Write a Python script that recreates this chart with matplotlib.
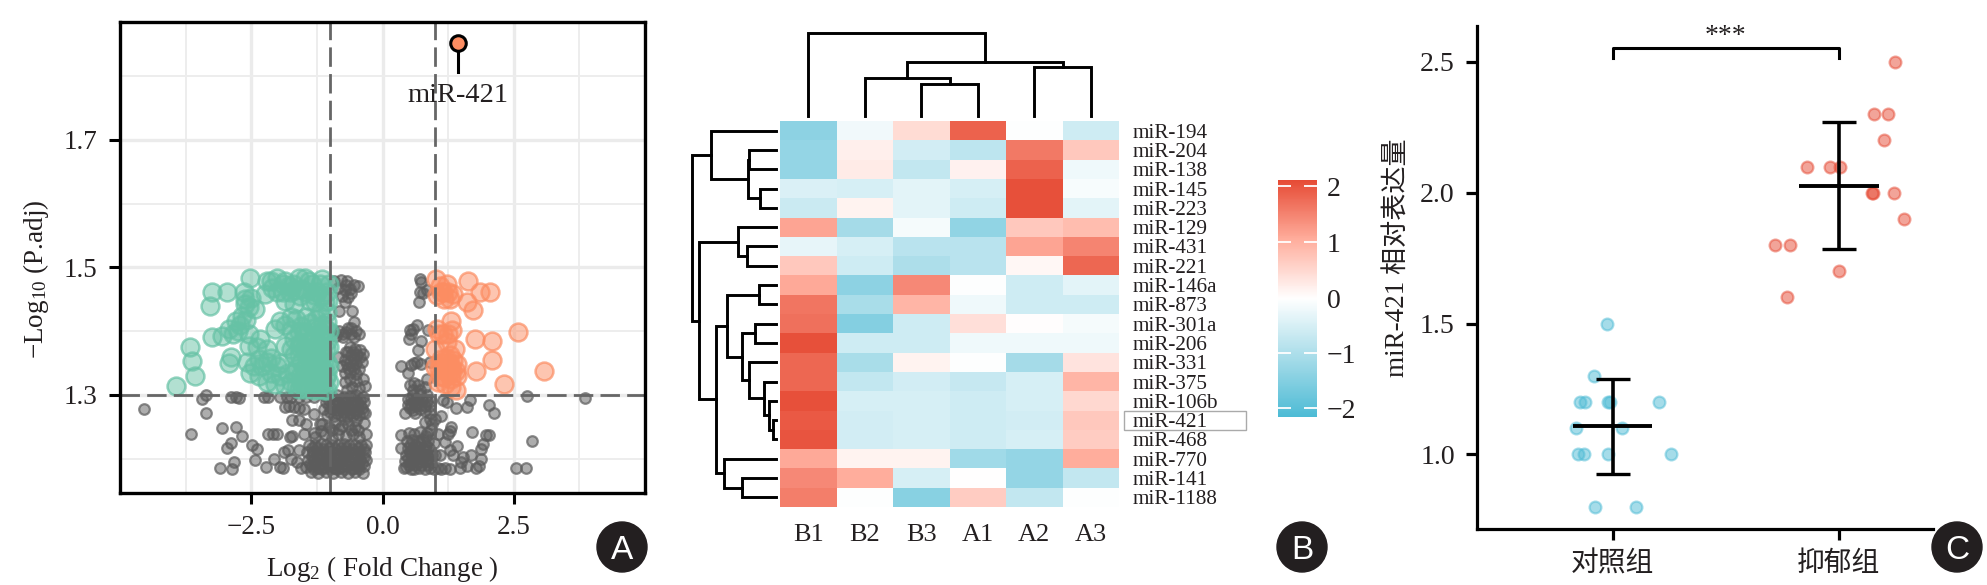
import matplotlib
matplotlib.use('Agg')
import matplotlib.pyplot as plt
import numpy as np
from matplotlib.colors import LinearSegmentedColormap, TwoSlopeNorm
from matplotlib.patches import Rectangle, Ellipse

plt.rcParams['font.family'] = ['Liberation Serif', 'Noto Sans CJK SC']
plt.rcParams['mathtext.fontset'] = 'custom'
plt.rcParams['mathtext.rm'] = 'Liberation Serif'
plt.rcParams['mathtext.default'] = 'rm'
plt.rcParams['text.color'] = '#231f20'
plt.rcParams['xtick.labelcolor'] = '#231f20'
plt.rcParams['ytick.labelcolor'] = '#231f20'

# panel A
green_points = [
    (-3.94, 1.314), (-3.57, 1.329), (-3.62, 1.353), (-3.67, 1.375), (-3.29, 1.440), (-3.24, 1.462),
    (-2.96, 1.462), (-2.52, 1.483), (-3.24, 1.390), (-3.05, 1.393), (-2.93, 1.403), (-2.80, 1.416),
    (-2.67, 1.424), (-2.93, 1.350), (-2.88, 1.359), (-2.61, 1.443), (-2.64, 1.461), (-2.42, 1.435),
    (-2.55, 1.396), (-2.55, 1.377), (-2.52, 1.335), (-2.58, 1.351), (-2.33, 1.388), (-2.20, 1.372),
    (-2.36, 1.356), (-2.20, 1.351), (-2.01, 1.346), (-2.20, 1.320), (-2.04, 1.317), (-1.85, 1.314),
    (-2.20, 1.479), (-2.01, 1.483), (-1.85, 1.479), (-2.23, 1.458), (-2.01, 1.461), (-1.85, 1.448),
    (-1.69, 1.443), (-1.60, 1.483), (-1.34, 1.474), (-1.76, 1.461), (-1.53, 1.466), (-1.28, 1.445),
    (-1.19, 1.474), (-1.02, 1.474), (-1.95, 1.416), (-2.04, 1.403), (-1.85, 1.409), (-1.65, 1.419),
    (-1.45, 1.422), (-1.26, 1.419), (-1.13, 1.409), (-1.85, 1.377), (-1.69, 1.388), (-1.50, 1.398),
    (-1.31, 1.393), (-1.13, 1.393), (-1.02, 1.375), (-1.69, 1.362), (-1.50, 1.372), (-1.31, 1.367),
    (-1.13, 1.362), (-1.69, 1.335), (-1.50, 1.341), (-1.31, 1.341), (-1.13, 1.341), (-1.02, 1.320),
    (-1.50, 1.320), (-1.31, 1.320), (-1.13, 1.320), (-1.56, 1.351), (-1.38, 1.354), (-1.19, 1.351),
    (-1.25, 1.461), (-1.06, 1.461), (-1.19, 1.430), (-1.06, 1.430), (-1.40, 1.310), (-1.22, 1.309),
    (-1.05, 1.308), (-1.60, 1.309), (-1.42, 1.330), (-1.22, 1.330), (-1.05, 1.332), (-1.58, 1.330),
    (-1.40, 1.385), (-1.22, 1.380), (-1.05, 1.385), (-1.58, 1.382), (-1.30, 1.405), (-1.10, 1.403),
    (-1.45, 1.362), (-1.25, 1.360), (-1.05, 1.352), (-1.75, 1.402), (-1.60, 1.398), (-1.40, 1.478),
    (-1.15, 1.481), (-1.48, 1.483), (-1.70, 1.474), (-1.90, 1.474), (-2.10, 1.468), (-1.30, 1.456),
    # denser patches
    (-2.62, 1.450), (-2.55, 1.438), (-2.50, 1.452), (-2.72, 1.410), (-2.60, 1.418), (-2.85, 1.396),
    (-2.75, 1.400), (-2.40, 1.375), (-2.45, 1.345), (-2.30, 1.345), (-2.12, 1.335), (-2.35, 1.330),
    (-2.12, 1.358), (-1.95, 1.330), (-1.95, 1.350), (-1.80, 1.335), (-1.75, 1.320), (-1.65, 1.312),
    (-1.90, 1.462), (-2.12, 1.478), (-1.78, 1.470), (-1.66, 1.464), (-1.58, 1.455), (-1.45, 1.462),
    (-1.38, 1.448), (-1.18, 1.455), (-1.10, 1.445), (-1.03, 1.448), (-1.75, 1.422), (-1.55, 1.408),
    (-1.38, 1.412), (-1.20, 1.398), (-1.05, 1.415), (-1.45, 1.392), (-1.60, 1.375), (-1.38, 1.372),
    (-1.75, 1.372), (-1.20, 1.372), (-1.08, 1.372), (-1.60, 1.360), (-1.30, 1.352), (-1.12, 1.350),
    (-1.45, 1.345), (-1.62, 1.342), (-1.25, 1.342), (-1.08, 1.328), (-1.35, 1.325), (-1.55, 1.318),
    (-1.18, 1.318), (-1.30, 1.308), (-1.12, 1.308), (-1.48, 1.309), (-1.02, 1.400), (-1.02, 1.345),
]
orange_points = [
    (1.01, 1.482), (1.22, 1.474), (1.63, 1.478), (1.85, 1.462), (2.05, 1.462), (1.60, 1.446),
    (1.73, 1.433), (1.35, 1.458), (1.16, 1.461), (1.03, 1.456), (1.31, 1.416), (2.58, 1.399),
    (1.76, 1.388), (2.09, 1.384), (2.08, 1.354), (1.78, 1.337), (3.08, 1.337), (2.32, 1.317),
    (1.03, 1.403), (1.16, 1.396), (1.33, 1.401), (1.00, 1.372), (1.38, 1.372), (1.22, 1.351),
    (1.41, 1.349), (1.00, 1.343), (1.25, 1.335), (1.41, 1.330), (1.19, 1.317), (1.31, 1.312),
    (1.40, 1.307), (1.12, 1.356), (1.28, 1.362), (1.22, 1.383), (1.10, 1.330), (1.30, 1.345),
    (1.15, 1.343), (1.35, 1.355), (1.05, 1.320), (1.10, 1.470), (1.18, 1.450), (1.28, 1.450),
    (1.12, 1.462), (1.25, 1.462), (1.08, 1.395), (1.25, 1.395), (1.20, 1.340), (1.33, 1.338),
    (1.10, 1.350), (1.20, 1.358), (1.08, 1.340), (1.30, 1.325), (1.18, 1.328), (1.40, 1.338),
]
grey_points = [
    # far left
    (-4.54, 1.278), (-3.43, 1.294), (-3.37, 1.300), (-3.36, 1.271), (-2.89, 1.297), (-2.73, 1.295),
    (-2.80, 1.296), (-3.65, 1.238), (-3.05, 1.248), (-2.79, 1.249), (-2.67, 1.236), (-2.88, 1.224),
    (-2.96, 1.216), (-2.48, 1.222), (-2.40, 1.215), (-2.83, 1.194), (-3.10, 1.186), (-2.86, 1.184),
    (-2.42, 1.197), (-2.22, 1.187), (-2.18, 1.238), (-2.01, 1.238), (-2.09, 1.239), (-1.72, 1.236),
    (-1.76, 1.234), (-1.50, 1.239), (-2.26, 1.296), (-2.18, 1.296), (-1.95, 1.296), (-1.82, 1.297),
    (-1.75, 1.296), (-1.60, 1.297), (-1.45, 1.296), (-1.30, 1.297), (-1.85, 1.281), (-1.69, 1.281),
    (-1.50, 1.278), (-1.78, 1.283), (-1.60, 1.279), (-1.88, 1.210), (-1.80, 1.214), (-2.07, 1.200),
    (-1.95, 1.187), (-1.90, 1.185), (-1.60, 1.213), (-1.63, 1.194), (-1.72, 1.260), (-1.60, 1.260),
    (-1.31, 1.270), (-1.45, 1.255), (-1.20, 1.255), (-1.30, 1.240), (-1.75, 1.200), (-1.55, 1.186),
    # left block just under the line
    (-1.12, 1.299), (-0.98, 1.298), (-0.86, 1.299), (-0.74, 1.297), (-0.62, 1.298), (-0.50, 1.299), (-0.38, 1.296),
    (-1.08, 1.289), (-0.95, 1.288), (-0.82, 1.287), (-0.70, 1.289), (-0.58, 1.288), (-0.46, 1.287), (-0.36, 1.289),
    (-1.12, 1.278), (-0.99, 1.279), (-0.87, 1.277), (-0.75, 1.279), (-0.63, 1.278), (-0.51, 1.277), (-0.39, 1.279),
    (-1.05, 1.268), (-0.92, 1.267), (-0.80, 1.269), (-0.68, 1.267), (-0.56, 1.268), (-0.44, 1.268), (-0.33, 1.272),
    (-1.04, 1.294), (-0.90, 1.293), (-0.78, 1.293), (-0.66, 1.294), (-0.54, 1.293), (-0.42, 1.292),
    (-1.02, 1.283), (-0.90, 1.283), (-0.78, 1.283), (-0.66, 1.283), (-0.54, 1.283), (-0.42, 1.283),
    (-1.00, 1.273), (-0.86, 1.272), (-0.74, 1.273), (-0.62, 1.272), (-0.50, 1.272), (-0.38, 1.273),
    # left middle
    (-1.15, 1.255), (-1.02, 1.249), (-0.90, 1.256), (-0.78, 1.251), (-0.66, 1.255), (-0.52, 1.250), (-0.36, 1.256),
    (-1.28, 1.234), (-1.10, 1.238), (-0.96, 1.232), (-0.84, 1.238), (-0.70, 1.235), (-0.56, 1.239), (-0.44, 1.234), (-0.32, 1.238),
    (-0.96, 1.245), (-0.82, 1.246), (-0.60, 1.245), (-0.46, 1.245), (-1.18, 1.244), (-0.72, 1.262), (-0.50, 1.260),
    # left bottom block
    (-1.40, 1.222), (-1.29, 1.221), (-1.18, 1.223), (-1.07, 1.221), (-0.96, 1.222), (-0.85, 1.221), (-0.74, 1.223), (-0.63, 1.221), (-0.52, 1.222), (-0.41, 1.221), (-0.31, 1.222),
    (-1.44, 1.210), (-1.33, 1.211), (-1.22, 1.209), (-1.11, 1.210), (-1.00, 1.211), (-0.89, 1.209), (-0.78, 1.210), (-0.67, 1.211), (-0.56, 1.209), (-0.45, 1.210), (-0.34, 1.211),
    (-1.41, 1.198), (-1.30, 1.197), (-1.19, 1.199), (-1.08, 1.198), (-0.97, 1.197), (-0.86, 1.199), (-0.75, 1.198), (-0.64, 1.197), (-0.53, 1.199), (-0.42, 1.198), (-0.31, 1.197),
    (-1.45, 1.187), (-1.34, 1.188), (-1.23, 1.186), (-1.12, 1.187), (-1.01, 1.188), (-0.90, 1.186), (-0.79, 1.187), (-0.68, 1.188), (-0.57, 1.186), (-0.46, 1.187), (-0.35, 1.188),
    (-1.37, 1.179), (-1.22, 1.178), (-1.08, 1.179), (-0.94, 1.178), (-0.80, 1.179), (-0.66, 1.178), (-0.52, 1.179), (-0.38, 1.178),
    (-1.35, 1.216), (-1.24, 1.216), (-1.13, 1.215), (-1.02, 1.216), (-0.91, 1.215), (-0.80, 1.216), (-0.69, 1.216), (-0.58, 1.215), (-0.47, 1.216), (-0.36, 1.215),
    (-1.35, 1.204), (-1.24, 1.204), (-1.13, 1.203), (-1.02, 1.204), (-0.91, 1.203), (-0.80, 1.204), (-0.69, 1.204), (-0.58, 1.203), (-0.47, 1.204), (-0.36, 1.203),
    (-1.38, 1.192), (-1.27, 1.192), (-1.16, 1.192), (-1.05, 1.193), (-0.94, 1.192), (-0.83, 1.193), (-0.72, 1.192), (-0.61, 1.193), (-0.50, 1.192), (-0.39, 1.193),
    (-1.30, 1.183), (-1.15, 1.183), (-1.00, 1.183), (-0.87, 1.183), (-0.73, 1.183), (-0.59, 1.183), (-0.45, 1.183),
    # left cloud above the line
    (-0.92, 1.478), (-0.80, 1.480), (-0.68, 1.479), (-0.55, 1.472), (-0.47, 1.470), (-0.85, 1.468), (-0.72, 1.464), (-0.62, 1.466),
    (-0.78, 1.455), (-0.66, 1.453), (-0.72, 1.445), (-0.82, 1.432), (-0.58, 1.432), (-0.55, 1.415), (-0.60, 1.405),
    (-0.95, 1.402), (-0.82, 1.400), (-0.70, 1.398), (-0.60, 1.396), (-0.50, 1.400), (-0.45, 1.395), (-0.88, 1.392), (-0.75, 1.390),
    (-0.62, 1.375), (-0.52, 1.372), (-0.42, 1.370), (-0.70, 1.368), (-0.60, 1.362), (-0.48, 1.362), (-0.38, 1.364), (-0.85, 1.360),
    (-0.72, 1.355), (-0.62, 1.352), (-0.50, 1.350), (-0.40, 1.352), (-0.78, 1.345), (-0.65, 1.342), (-0.55, 1.340), (-0.45, 1.340),
    (-0.62, 1.325), (-0.50, 1.322), (-0.38, 1.325), (-0.72, 1.320), (-0.58, 1.312), (-0.44, 1.310), (-0.34, 1.314), (-0.68, 1.307),
    (-0.70, 1.472), (-0.60, 1.460), (-0.76, 1.395), (-0.66, 1.405), (-0.55, 1.390), (-0.65, 1.368), (-0.55, 1.356), (-0.68, 1.348),
    (-0.58, 1.346), (-0.50, 1.332), (-0.62, 1.336), (-0.72, 1.334), (-0.42, 1.360), (-0.56, 1.368),
    # right cloud above the line
    (0.71, 1.482), (0.74, 1.477), (0.71, 1.461), (0.84, 1.464), (0.78, 1.460), (0.69, 1.446), (0.65, 1.410), (0.52, 1.401),
    (0.55, 1.396), (0.51, 1.388), (0.74, 1.385), (0.68, 1.370), (0.87, 1.402), (0.58, 1.404), (0.36, 1.346), (0.55, 1.347),
    (0.65, 1.351), (0.49, 1.335), (0.74, 1.349), (0.90, 1.351), (0.60, 1.350), (0.84, 1.325), (0.52, 1.316), (0.68, 1.315),
    (0.60, 1.318), (0.81, 1.312), (0.58, 1.308), (0.72, 1.307),
    # right block just under the line
    (0.49, 1.293), (0.59, 1.299), (0.71, 1.301), (0.84, 1.299), (0.93, 1.291), (0.55, 1.286), (0.68, 1.288), (0.81, 1.283),
    (0.90, 1.283), (0.43, 1.271), (0.62, 1.272), (0.71, 1.278), (0.52, 1.280), (0.75, 1.292), (0.60, 1.290), (0.80, 1.275),
    (0.55, 1.295), (0.65, 1.294), (0.85, 1.290), (0.48, 1.284), (0.62, 1.282), (0.72, 1.284), (0.58, 1.276), (0.90, 1.272),
    # right, right of the block
    (1.22, 1.288), (1.15, 1.292), (1.40, 1.280), (1.60, 1.281), (1.67, 1.292), (2.02, 1.284), (2.12, 1.271), (2.76, 1.298),
    (3.86, 1.295), (2.85, 1.228), (2.55, 1.185), (2.74, 1.186), (1.71, 1.241), (1.97, 1.237), (2.03, 1.237), (1.92, 1.223),
    (1.87, 1.215), (1.88, 1.200), (1.79, 1.186), (1.47, 1.185), (1.60, 1.189), (1.54, 1.202), (1.41, 1.220), (1.28, 1.213),
    (1.31, 1.249), (1.28, 1.244), (1.25, 1.239), (1.12, 1.267), (1.00, 1.262), (0.81, 1.257), (0.90, 1.262), (1.06, 1.239),
    (1.19, 1.226), (1.19, 1.186), (1.06, 1.186), (1.28, 1.183), (1.12, 1.184), (1.83, 1.189), (1.68, 1.206), (1.50, 1.194),
    (1.35, 1.205), (1.10, 1.205), (0.98, 1.225), (1.00, 1.205), (0.92, 1.245), (0.85, 1.240), (0.95, 1.255),
    # right bottom block
    (0.36, 1.237), (0.35, 1.216), (0.40, 1.185), (0.55, 1.183), (0.50, 1.240), (0.60, 1.238), (0.72, 1.241), (0.82, 1.236),
    (0.47, 1.228), (0.57, 1.229), (0.67, 1.227), (0.77, 1.230), (0.87, 1.227), (0.48, 1.217), (0.58, 1.216), (0.68, 1.218),
    (0.78, 1.216), (0.88, 1.217), (0.45, 1.206), (0.55, 1.207), (0.65, 1.205), (0.75, 1.207), (0.85, 1.206), (0.95, 1.205),
    (0.42, 1.196), (0.52, 1.195), (0.62, 1.197), (0.72, 1.195), (0.82, 1.196), (0.92, 1.195), (0.44, 1.187), (0.60, 1.184),
    (0.70, 1.186), (0.80, 1.184), (0.90, 1.186), (0.98, 1.184),
    (0.52, 1.222), (0.62, 1.222), (0.72, 1.223), (0.82, 1.222), (0.52, 1.211), (0.62, 1.211), (0.72, 1.211), (0.82, 1.212),
    (0.48, 1.201), (0.58, 1.201), (0.68, 1.201), (0.78, 1.201), (0.88, 1.201), (0.50, 1.190), (0.62, 1.190), (0.74, 1.190), (0.86, 1.190),
]
mir421_x, mir421_y = 1.44, 1.852
mir421_stem_end, mir421_label_y = 1.807, 1.77

# panel B
row_names = ['miR-194', 'miR-204', 'miR-138', 'miR-145', 'miR-223', 'miR-129', 'miR-431', 'miR-221',
             'miR-146a', 'miR-873', 'miR-301a', 'miR-206', 'miR-331', 'miR-375', 'miR-106b', 'miR-421',
             'miR-468', 'miR-770', 'miR-141', 'miR-1188']
col_names = ['B1', 'B2', 'B3', 'A1', 'A2', 'A3']
heat_values = [
    [-1.40, -0.18, 0.45, 1.85, -0.03, -0.60],
    [-1.30, 0.20, -0.55, -0.80, 1.60, 0.70],
    [-1.30, 0.25, -0.75, 0.18, 1.85, -0.20],
    [-0.45, -0.50, -0.35, -0.50, 2.05, -0.10],
    [-0.65, 0.15, -0.35, -0.60, 2.05, -0.35],
    [1.15, -1.10, -0.12, -1.35, 0.70, 0.85],
    [-0.30, -0.50, -0.85, -0.85, 1.15, 1.50],
    [0.70, -0.60, -1.00, -0.85, 0.10, 1.80],
    [1.10, -1.40, 1.45, -0.02, -0.60, -0.35],
    [1.65, -1.05, 0.95, -0.20, -0.60, -0.60],
    [1.70, -1.50, -0.60, 0.40, 0.03, -0.12],
    [2.05, -0.60, -0.60, -0.20, -0.20, -0.20],
    [1.80, -1.05, 0.15, -0.02, -1.10, 0.35],
    [1.80, -0.75, -0.55, -0.70, -0.50, 0.95],
    [2.05, -0.50, -0.50, -0.60, -0.50, 0.50],
    [1.95, -0.55, -0.50, -0.60, -0.55, 0.70],
    [2.00, -0.55, -0.50, -0.60, -0.50, 0.65],
    [1.10, 0.15, 0.15, -1.15, -1.30, 1.05],
    [1.45, 1.05, -0.50, 0.00, -1.30, -0.75],
    [1.55, -0.03, -1.45, 0.65, -0.75, -0.03],
]
col_merges = [(2, 3, 96), (1, 6, 113), (4, 5, 145), (7, 8, 161), (0, 9, 248)]
row_merges = [(1, 2, 80), (3, 4, 49), (20, 21, 84), (0, 22, 195), (6, 7, 87), (5, 24, 114), (8, 9, 52),
              (10, 11, 64), (15, 16, 9), (14, 28, 22), (13, 29, 35), (12, 30, 80), (27, 31, 101),
              (26, 32, 147), (18, 19, 102), (17, 34, 155), (33, 35, 180), (25, 36, 232), (23, 37, 252)]
cbar_ticks = [-2, -1, 0, 1, 2]

# panel C
groups = ['对照组', '抑郁组']
ctrl_x = [0.975, 0.916, 0.855, 0.878, 0.98, 0.988, 1.204, 0.84, 1.043, 0.848, 0.873, 0.98, 1.258, 0.922, 1.103]
ctrl_y = [1.5, 1.3, 1.2, 1.2, 1.2, 1.2, 1.2, 1.1, 1.1, 1.0, 1.0, 1.0, 1.0, 0.8, 0.8]
dep_x = [2.248, 2.156, 2.218, 2.202, 1.86, 1.962, 2.006, 2.146, 2.15, 2.245, 2.289, 1.72, 1.785, 2.001, 1.77]
dep_y = [2.5, 2.3, 2.3, 2.2, 2.1, 2.1, 2.1, 2.0, 2.0, 2.0, 1.9, 1.8, 1.8, 1.7, 1.6]
means = [1.107, 2.027]
sds = [0.183, 0.243]

W, H = 1987, 585
fig = plt.figure(figsize=(W/100, H/100), dpi=100)


def px_axes(left, top, right, bottom):
    return fig.add_axes([left/W, 1 - bottom/H, (right - left)/W, (bottom - top)/H])


def draw_tree(ax, merges, n_leaves, vertical):
    pos = {i: i + 0.5 for i in range(n_leaves)}
    height = {i: 0 for i in range(n_leaves)}
    for k, (a, b, h) in enumerate(merges):
        across = [pos[a], pos[a], pos[b], pos[b]]
        along = [height[a], h, h, height[b]]
        if vertical:
            ax.plot(across, along, color='black', lw=2.1, clip_on=False, solid_joinstyle='miter')
        else:
            ax.plot(along, across, color='black', lw=2.1, clip_on=False, solid_joinstyle='miter')
        pos[n_leaves + k] = (pos[a] + pos[b])/2
        height[n_leaves + k] = h


def badge(x, y, letter):
    fig.add_artist(Ellipse((x/W, 1 - y/H), 50/W, 50/H, color='#231f20', transform=fig.transFigure))
    fig.text(x/W, 1 - y/H, letter, color='white', family='Liberation Sans', fontsize=24, ha='center', va='center_baseline')


# A: volcano
ax = px_axes(120, 22, 645, 493)
ax.set_xlim(-5, 5)
ax.set_ylim(1.146, 1.885)
ax.set_xticks([-2.5, 0, 2.5])
ax.set_yticks([1.3, 1.5, 1.7])
ax.set_xticks([-3.75, -1.25, 1.25, 3.75], minor=True)
ax.set_yticks([1.2, 1.4, 1.6, 1.8], minor=True)
ax.grid(True, which='major', color='#ebebeb', lw=2.4)
ax.grid(True, which='minor', color='#ededed', lw=1.4)
ax.set_axisbelow(True)
ax.tick_params(which='minor', length=0)
ax.tick_params(which='major', length=8, width=2.2, labelsize=19.5, pad=8)
for s in ax.spines.values():
    s.set_linewidth(2.4)

gx, gy = np.array(grey_points).T
ax.scatter(gx, gy, s=58, facecolors=(0.36, 0.36, 0.36, 0.5), edgecolors=(0.36, 0.36, 0.36, 0.7), linewidths=1.6)
gx, gy = np.array(green_points).T
ax.scatter(gx, gy, s=165, facecolors=(0.4, 0.76, 0.647, 0.5), edgecolors=(0.4, 0.76, 0.647, 0.7), linewidths=1.8)
gx, gy = np.array(orange_points).T
ax.scatter(gx, gy, s=165, facecolors=(0.988, 0.553, 0.384, 0.5), edgecolors=(0.988, 0.553, 0.384, 0.7), linewidths=1.8)

for v in [-1, 1]:
    ax.axvline(v, color='#666666', lw=2, linestyle=(0, (7, 2.6)))
ax.axhline(1.3, color='#666666', lw=2, linestyle=(0, (7, 2.6)))

ax.plot([mir421_x, mir421_x], [mir421_y, mir421_stem_end], color='black', lw=2.2)
ax.scatter([mir421_x], [mir421_y], s=125, facecolors='#FC8D62', edgecolors='black', linewidths=2.2, zorder=5)
ax.text(mir421_x, mir421_label_y, 'miR-421', fontsize=20.5, ha='center', va='center')
fig.text(382/W, 1 - 569/H, r'Log$_2$ ( Fold Change )', fontsize=19.5, ha='center', va='center')
fig.text(36/W, 1 - 279/H, r'$-$Log$_{10}$ (P.adj)', fontsize=19.5, ha='center', va='center', rotation=90)
badge(622, 547, 'A')

# B: heatmap with dendrograms
cmap = LinearSegmentedColormap.from_list('npg', ['#4DBBD5', '#A7DCE9', '#FFFFFF', '#FFAD9C', '#E64B35'])
norm = TwoSlopeNorm(vmin=-2.16, vcenter=0, vmax=2.11)
hax = px_axes(780, 121, 1119, 507)
im = hax.pcolormesh(np.array(heat_values), cmap=cmap, norm=norm)
hax.set_xlim(0, 6)
hax.set_ylim(20, 0)
hax.set_xticks(np.arange(6) + 0.5, col_names)
hax.yaxis.tick_right()
hax.set_yticks(np.arange(20) + 0.5, row_names)
hax.tick_params(axis='x', length=0, labelsize=19, pad=12)
hax.tick_params(axis='y', length=0, labelsize=15.2, pad=10)
for s in hax.spines.values():
    s.set_visible(False)
hax.add_patch(Rectangle((6.09, row_names.index('miR-421')), 2.16, 1, fill=False, edgecolor='#aaaaaa', lw=1, clip_on=False))

tax = px_axes(780, 33, 1119, 116)
tax.set_xlim(0, 6)
tax.set_ylim(0, 248)
tax.axis('off')
draw_tree(tax, col_merges, 6, True)

rax = px_axes(692, 121, 776, 507)
rax.set_xlim(252, 0)
rax.set_ylim(20, 0)
rax.axis('off')
draw_tree(rax, row_merges, 20, False)

cax = px_axes(1278, 180, 1317, 417)
cb = fig.colorbar(im, cax=cax, ticks=cbar_ticks)
cb.outline.set_visible(False)
cax.tick_params(length=0, labelsize=20, pad=7)
cax.hlines(cbar_ticks, 0, 0.34, color='white', lw=1.3, transform=cax.get_yaxis_transform())
cax.hlines(cbar_ticks, 0.66, 1, color='white', lw=1.3, transform=cax.get_yaxis_transform())
badge(1302, 547, 'B')

# C: dot plot
cax2 = px_axes(1477, 26, 1933, 529)
cax2.set_xlim(0.4, 2.417)
cax2.set_ylim(0.715, 2.637)
cax2.spines['top'].set_visible(False)
cax2.spines['right'].set_visible(False)
cax2.spines['left'].set_linewidth(2.3)
cax2.spines['bottom'].set_linewidth(2.3)
cax2.scatter(ctrl_x, ctrl_y, s=72, facecolors=(0.302, 0.733, 0.835, 0.5), edgecolors=(0.302, 0.733, 0.835, 0.5), linewidths=1.6)
cax2.scatter(dep_x, dep_y, s=72, facecolors=(0.902, 0.294, 0.208, 0.5), edgecolors=(0.902, 0.294, 0.208, 0.5), linewidths=1.6)
cax2.errorbar([1, 2], means, yerr=sds, fmt='none', ecolor='black', elinewidth=2.6, capsize=12, capthick=2.4)
cax2.hlines(means, [0.824, 1.824], [1.176, 2.176], color='black', lw=2.8)
cax2.plot([1, 1, 2, 2], [2.514, 2.553, 2.553, 2.514], color='black', lw=2.2)
cax2.text(1.5, 2.595, '***', fontsize=20, ha='center', va='center')
cax2.set_xticks([1, 2], groups)
cax2.set_yticks([1.0, 1.5, 2.0, 2.5])
cax2.tick_params(length=8, width=2.3, labelsize=20, pad=8)
fig.text(1398/W, 1 - 258/H, 'miR-421 相对表达量', fontsize=19.5, ha='center', va='center', rotation=90)
badge(1957, 547, 'C')

plt.savefig('out.png', dpi=100)
